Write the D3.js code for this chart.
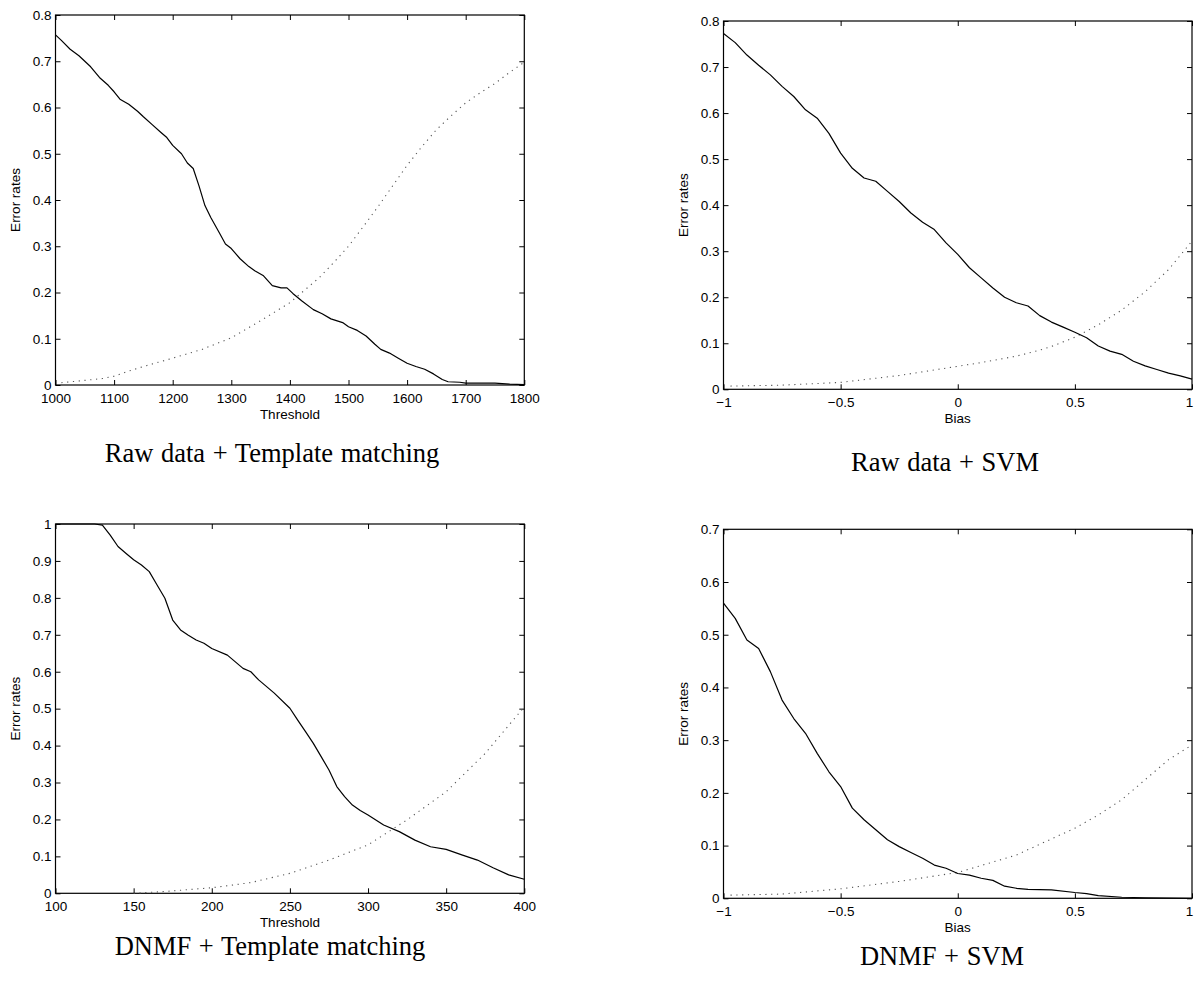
<!DOCTYPE html>
<html>
<head>
<meta charset="utf-8">
<script src="https://cdn.jsdelivr.net/npm/d3@7"></script>
<style>
html,body{margin:0;padding:0;background:#fff;}
svg{display:block;}
.tick text{font-family:"Liberation Sans",Arial,Helvetica,sans-serif;font-size:13.5px;fill:#000;}
.alabel{font-family:"Liberation Sans",Arial,Helvetica,sans-serif;font-size:13.5px;fill:#000;}
.caption{font-family:"Liberation Serif","Times New Roman",serif;font-size:26.5px;fill:#000;word-spacing:1px;}
</style>
</head>
<body>
<svg id="chart" width="1194" height="984"></svg>
<script>
// ---------- Data ----------
// Panel 1: Raw data + Template matching
const p1Threshold = [1000,1010,1025,1040,1050,1060,1075,1090,1100,1110,1125,1140,1150,1165,1180,1190,1200,1215,1225,1235,1245,1255,1265,1280,1290,1300,1315,1330,1340,1355,1370,1385,1395,1405,1420,1440,1455,1470,1490,1500,1515,1530,1545,1555,1570,1585,1600,1615,1630,1645,1660,1670,1690,1700,1750,1775,1800];
const p1Solid = [0.757,0.745,0.726,0.712,0.700,0.688,0.665,0.648,0.634,0.618,0.607,0.592,0.580,0.563,0.546,0.535,0.518,0.500,0.480,0.468,0.430,0.388,0.362,0.328,0.305,0.295,0.273,0.256,0.247,0.236,0.215,0.210,0.210,0.198,0.182,0.163,0.154,0.143,0.135,0.126,0.118,0.106,0.088,0.077,0.069,0.058,0.047,0.040,0.034,0.024,0.012,0.007,0.006,0.004,0.004,0.002,0.001];
const p1DotX = [1010,1050,1080,1100,1125,1150,1175,1200,1250,1300,1350,1400,1425,1450,1475,1500,1525,1550,1575,1600,1625,1650,1675,1700,1725,1750,1775,1800];
const p1Dotted = [0.005,0.010,0.014,0.019,0.030,0.040,0.049,0.058,0.077,0.102,0.139,0.178,0.205,0.232,0.265,0.300,0.342,0.385,0.430,0.475,0.515,0.552,0.582,0.610,0.632,0.652,0.676,0.698];

// Panel 2: Raw data + SVM
const p2Bias = [-1,-0.95,-0.9,-0.85,-0.8,-0.75,-0.7,-0.65,-0.6,-0.55,-0.5,-0.45,-0.4,-0.35,-0.3,-0.25,-0.2,-0.15,-0.1,-0.05,0,0.05,0.1,0.15,0.2,0.25,0.3,0.35,0.4,0.45,0.5,0.55,0.6,0.65,0.7,0.75,0.8,0.85,0.9,0.95,1];
const p2Solid = [0.773,0.753,0.726,0.704,0.683,0.658,0.636,0.607,0.589,0.556,0.513,0.480,0.459,0.452,0.430,0.408,0.383,0.363,0.347,0.318,0.293,0.264,0.242,0.220,0.200,0.188,0.181,0.160,0.146,0.135,0.124,0.112,0.094,0.083,0.076,0.061,0.051,0.043,0.035,0.029,0.022];
const p2DotX = [-0.97,-0.75,-0.5,-0.25,-0.1,0,0.1,0.25,0.35,0.4,0.5,0.6,0.7,0.8,0.9,1];
const p2Dotted = [0.007,0.009,0.015,0.030,0.042,0.050,0.058,0.072,0.085,0.093,0.113,0.140,0.172,0.212,0.260,0.322];

// Panel 3: DNMF + Template matching
const p3Threshold = [100,125,130,135,140,145,150,155,160,165,170,175,180,185,190,195,200,210,220,225,230,240,250,255,260,265,270,275,280,285,290,295,300,310,320,330,340,350,360,370,380,390,400];
const p3Solid = [1.0,1.0,0.997,0.970,0.939,0.921,0.903,0.889,0.871,0.835,0.799,0.740,0.713,0.699,0.686,0.677,0.663,0.645,0.609,0.600,0.578,0.542,0.501,0.469,0.438,0.406,0.370,0.334,0.289,0.262,0.239,0.224,0.212,0.185,0.167,0.144,0.126,0.119,0.104,0.090,0.069,0.050,0.038];
const p3DotX = [150,170,200,225,250,275,300,325,350,375,400];
const p3Dotted = [0.000,0.005,0.015,0.029,0.054,0.090,0.131,0.199,0.275,0.379,0.505];

// Panel 4: DNMF + SVM
const p4Bias = [-1,-0.95,-0.9,-0.85,-0.8,-0.75,-0.7,-0.65,-0.6,-0.55,-0.5,-0.45,-0.4,-0.35,-0.3,-0.25,-0.2,-0.15,-0.1,-0.05,0,0.05,0.1,0.15,0.2,0.25,0.3,0.4,0.5,0.55,0.6,0.7,0.8,1];
const p4Solid = [0.560,0.531,0.490,0.474,0.430,0.376,0.341,0.313,0.275,0.240,0.212,0.171,0.149,0.130,0.111,0.098,0.087,0.076,0.063,0.057,0.047,0.044,0.038,0.034,0.023,0.019,0.017,0.016,0.011,0.009,0.005,0.002,0.001,0.000];
const p4DotX = [-0.97,-0.75,-0.5,-0.25,0,0.25,0.5,0.6,0.7,0.8,0.9,1];
const p4Dotted = [0.006,0.008,0.018,0.032,0.049,0.082,0.133,0.158,0.187,0.225,0.263,0.291];

// Tick values
const thrTicks1 = [1000,1100,1200,1300,1400,1500,1600,1700,1800];
const thrTicks3 = [100,150,200,250,300,350,400];
const biasTicks = [-1,-0.5,0,0.5,1];
const yTicks08 = [0,0.1,0.2,0.3,0.4,0.5,0.6,0.7,0.8];
const yTicks10 = [0,0.1,0.2,0.3,0.4,0.5,0.6,0.7,0.8,0.9,1];
const yTicks07 = [0,0.1,0.2,0.3,0.4,0.5,0.6,0.7];

const xLabels = ["Threshold","Bias","Threshold","Bias"];
const yLabel = "Error rates";
const captions = ["Raw data + Template matching","Raw data + SVM","DNMF + Template matching","DNMF + SVM"];

// ---------- Layout ----------
const panels = [
  {box:[55.5,524.3,15,385], xd:[1000,1800], yd:[0,0.8], xt:thrTicks1, yt:yTicks08,
   sx:p1Threshold, sy:p1Solid, dx:p1DotX, dy:p1Dotted, xl:xLabels[0], cap:captions[0], capX:272, capY:462},
  {box:[723.5,1192,21,389.3], xd:[-1,1], yd:[0,0.8], xt:biasTicks, yt:yTicks08,
   sx:p2Bias, sy:p2Solid, dx:p2DotX, dy:p2Dotted, xl:xLabels[1], cap:captions[1], capX:945, capY:471},
  {box:[55.5,524.3,524,893.3], xd:[100,400], yd:[0,1], xt:thrTicks3, yt:yTicks10,
   sx:p3Threshold, sy:p3Solid, dx:p3DotX, dy:p3Dotted, xl:xLabels[2], cap:captions[2], capX:270, capY:955},
  {box:[723.5,1192,529.3,898.3], xd:[-1,1], yd:[0,0.7], xt:biasTicks, yt:yTicks07,
   sx:p4Bias, sy:p4Solid, dx:p4DotX, dy:p4Dotted, xl:xLabels[3], cap:captions[3], capX:942, capY:965}
];

const svg = d3.select("#chart");
function tf(d){ return d3.format("")(d).replace("-", "\u2212"); }

panels.forEach(p => {
  const [L,R,T,B] = p.box;
  const x = d3.scaleLinear().domain(p.xd).range([L,R]);
  const y = d3.scaleLinear().domain(p.yd).range([B,T]);
  const g = svg.append("g");

  const gb = g.append("g").attr("transform",`translate(0,${B})`)
    .call(d3.axisBottom(x).tickValues(p.xt).tickFormat(tf).tickSizeInner(-5).tickSizeOuter(0).tickPadding(8));
  const gt = g.append("g").attr("transform",`translate(0,${T})`)
    .call(d3.axisTop(x).tickValues(p.xt).tickFormat("").tickSizeInner(-5).tickSizeOuter(0));
  const gl = g.append("g").attr("transform",`translate(${L},0)`)
    .call(d3.axisLeft(y).tickValues(p.yt).tickFormat(tf).tickSizeInner(-5).tickSizeOuter(0).tickPadding(4));
  const gr = g.append("g").attr("transform",`translate(${R},0)`)
    .call(d3.axisRight(y).tickValues(p.yt).tickFormat("").tickSizeInner(-5).tickSizeOuter(0));
  [gb,gt,gl,gr].forEach(a => {
    a.select(".domain").remove();
    a.selectAll(".tick line").attr("stroke","#000").attr("stroke-width",1);
    a.attr("font-size",null).attr("font-family",null);
  });
  // keep the right-most tick label inside the page
  gb.selectAll(".tick text").filter(d => x(d) > 1186).attr("dx", -3);

  g.append("rect").attr("x",L).attr("y",T).attr("width",R-L).attr("height",B-T)
    .attr("fill","none").attr("stroke","#000").attr("stroke-width",1.2);

  const line = d3.line().x(d=>x(d[0])).y(d=>y(d[1]));
  g.append("path").datum(d3.zip(p.dx,p.dy)).attr("d",line)
    .attr("fill","none").attr("stroke","#555").attr("stroke-width",1.1)
    .attr("stroke-dasharray","1.2,4.6");
  g.append("path").datum(d3.zip(p.sx,p.sy)).attr("d",line)
    .attr("fill","none").attr("stroke","#000").attr("stroke-width",1.2)
    .attr("stroke-linejoin","round");

  g.append("text").attr("class","alabel").attr("x",(L+R)/2).attr("y",B+34)
    .attr("text-anchor","middle").text(p.xl);
  g.append("text").attr("class","alabel")
    .attr("transform",`translate(${L-36},${(T+B)/2}) rotate(-90)`)
    .attr("text-anchor","middle").text(yLabel);

  svg.append("text").attr("class","caption").attr("x",p.capX).attr("y",p.capY)
    .attr("text-anchor","middle").text(p.cap);
});
</script>
</body>
</html>
